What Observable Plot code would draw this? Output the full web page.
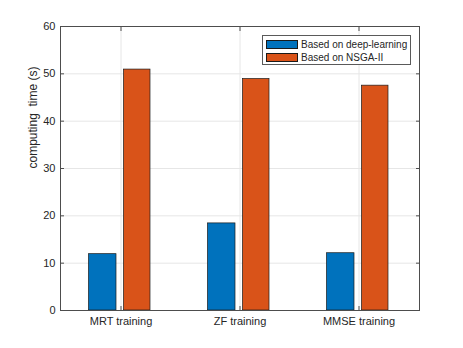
<!DOCTYPE html>
<html>
<head>
<meta charset="utf-8">
<script src="https://cdn.jsdelivr.net/npm/d3@7"></script>
<script src="https://cdn.jsdelivr.net/npm/@observablehq/plot@0.6"></script>
<style>
  body { margin: 0; background: #fff; }
  #wrap { position: relative; width: 463px; height: 348px; font-family: "Liberation Sans", Arial, sans-serif; }
  #legend { position: absolute; left: 262px; top: 35px; width: 147px; height: 28px; border: 1px solid #5a5a5a; background: #fff; font-size: 10px; color: #262626; }
  .item { position: absolute; left: 3px; height: 10px; display: flex; align-items: center; }
  .sw { width: 32px; height: 9px; border: 1px solid #1a1a1a; margin-right: 3px; box-sizing: border-box; }
</style>
</head>
<body>
<div id="wrap"></div>
<script>
const categories = ["MRT training", "ZF training", "MMSE training"];
const seriesNames = ["Based on deep-learning", "Based on NSGA-II"];
const deepLearning = [11.9, 18.4, 12.1];
const nsga = [50.9, 48.9, 47.5];
const yTicks = [0, 10, 20, 30, 40, 50, 60];
const colors = ["#0072BD", "#D95319"];

const dl = categories.map((c, i) => ({category: c, value: deepLearning[i]}));
const ns = categories.map((c, i) => ({category: c, value: nsga[i]}));

const font = "'Liberation Sans', Arial, sans-serif";
const plot = Plot.plot({
  width: 463,
  height: 348,
  marginLeft: 60,
  marginRight: 44,
  marginTop: 26,
  marginBottom: 38,
  style: {fontFamily: font, fontSize: "11px", color: "#262626", background: "#fff"},
  x: {domain: categories, padding: 0, label: null},
  y: {domain: [0, 60], ticks: yTicks, label: null},
  marks: [
    Plot.gridY(yTicks.slice(1, -1), {stroke: "#e6e6e6", strokeOpacity: 1}),
    Plot.gridX(categories, {stroke: "#e6e6e6", strokeOpacity: 1}),
    Plot.barY(dl, {x: "category", y: "value", fill: colors[0], stroke: "#1a1a1a", strokeWidth: 0.7, insetLeft: 27.5, insetRight: 64}),
    Plot.barY(ns, {x: "category", y: "value", fill: colors[1], stroke: "#1a1a1a", strokeWidth: 0.7, insetLeft: 62.5, insetRight: 30}),
    Plot.frame({stroke: "#4d4d4d", strokeWidth: 1}),
    Plot.axisY(yTicks, {anchor: "left", tickSize: 0, tickPadding: 5, fontSize: 11, label: null}),
    Plot.axisY(yTicks, {anchor: "left", tickSize: -4, text: null, stroke: "#4d4d4d", label: null}),
    Plot.axisY(yTicks, {anchor: "right", tickSize: -4, text: null, stroke: "#4d4d4d", label: null}),
    Plot.axisX(categories, {anchor: "bottom", tickSize: 0, tickPadding: 7, fontSize: 11, label: null}),
    Plot.axisX(categories, {anchor: "bottom", tickSize: -4, text: null, stroke: "#4d4d4d", label: null}),
    Plot.axisX(categories, {anchor: "top", tickSize: -4, text: null, stroke: "#4d4d4d", label: null}),
    Plot.text(["computing\u00a0 time (s)"], {frameAnchor: "left", dx: -27, rotate: -90, fontSize: 12, fill: "#262626", text: d => d})
  ]
});

const wrap = document.getElementById("wrap");
wrap.appendChild(plot);
const legend = document.createElement("div");
legend.id = "legend";
seriesNames.forEach((name, i) => {
  const it = document.createElement("div");
  it.className = "item";
  it.style.top = (3 + i * 13) + "px";
  const sw = document.createElement("div");
  sw.className = "sw";
  sw.style.background = colors[i];
  const t = document.createElement("span");
  t.textContent = name;
  it.appendChild(sw);
  it.appendChild(t);
  legend.appendChild(it);
});
wrap.appendChild(legend);
</script>
</body>
</html>
